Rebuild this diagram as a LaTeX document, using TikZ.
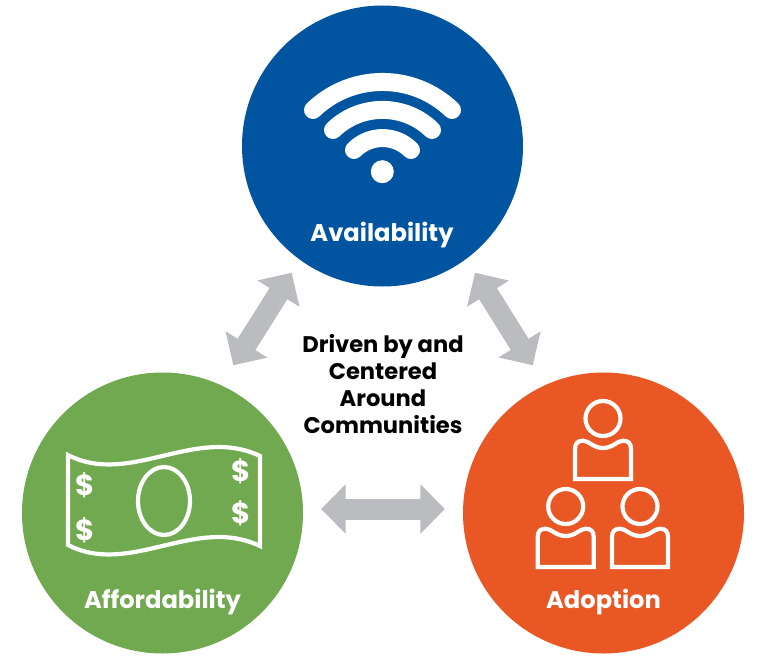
\documentclass[tikz,border=0pt]{standalone}
\usepackage{fontspec}
\setmainfont{Poppins}
\usetikzlibrary{arrows.meta}
\definecolor{cblue}{HTML}{0054A0}
\definecolor{cgreen}{HTML}{70A94F}
\definecolor{corange}{HTML}{E95725}
\definecolor{cgray}{HTML}{BBBCBF}
\tikzset{
  disc/.style={circle,minimum size=281pt,inner sep=0pt,draw=none},
  title/.style={text=white,font=\bfseries\fontsize{24.2}{24.2}\selectfont,inner sep=0pt},
  link/.style={draw=cgray,line width=21pt,{Triangle[length=24.7pt,width=48pt]}-{Triangle[length=24.7pt,width=48pt]}},
  glyph/.style={draw=white,line width=4.2pt,line join=miter},
  wave/.style={draw=white,line width=18pt,line cap=round},
  money/.style={text=white,font=\bfseries\fontsize{29}{29}\selectfont,inner sep=0pt},
  pics/personicon/.style={code={
    \draw[glyph] (0,-17.5) circle[radius=17.5];
    \draw[glyph] (-28,43) -- (-28,13) .. controls (-28,7) and (-25,4.7) .. (-20,4.7) .. controls (-14,4.7) and (-10,12) .. (0,12) .. controls (10,12) and (14,4.7) .. (20,4.7) .. controls (25,4.7) and (28,7) .. (28,13) -- (28,43) -- cycle;
  }}
}
\begin{document}
\begin{tikzpicture}[x=1pt,y=-1pt]
\useasboundingbox (0,0) rectangle (768,658);
\node[disc,fill=cblue] (avail) at (382.5,146) {};
\node[disc,fill=cgreen] (afford) at (162.5,513) {};
\node[disc,fill=corange] (adopt) at (603.5,513) {};
\node[title] (availt) at (382,235) {Availability};
\node[title] (affordt) at (162.5,602) {Affordability};
\node[title] (adoptt) at (603.5,602) {Adoption};
\node[font=\bfseries\fontsize{22.6}{27}\selectfont,align=center,inner sep=0pt,text=black] (center) at (383,384) {Driven by and\\Centered\\Around\\Communities};
% links
\coordinate (l1a) at (291.7,272.7);
\coordinate (l1b) at (233.3,365.3);
\coordinate (l2a) at (475,272.7);
\coordinate (l2b) at (532.7,365.3);
\coordinate (l3a) at (321,509);
\coordinate (l3b) at (445,509);
\draw[link] (l1a) -- (l1b);
\draw[link] (l2a) -- (l2b);
\draw[link] (l3a) -- (l3b);
% wifi
\draw[wave] (313,110) .. controls (351.8,72.6) and (413.2,72.6) .. (452,110);
\draw[wave] (333,130) .. controls (360.5,103.2) and (404.5,103.2) .. (432,130);
\draw[wave] (354,150) .. controls (369.7,134.1) and (395.3,134.1) .. (411,150);
\fill[white] (382.3,171.7) circle[radius=11.5];
% banknote
\draw[glyph] (68,455) .. controls (130,487) and (195,425) .. (260,456) -- (260,546) .. controls (195,515) and (130,577) .. (68,545) -- cycle;
\draw[glyph] (164,501) ellipse[x radius=26,y radius=34];
\node[money] (d1) at (85,485) {\$};
\node[money] (d2) at (85,530) {\$};
\node[money] (d3) at (241,471) {\$};
\node[money] (d4) at (241,513) {\$};
% people
\pic at (603,436) {personicon};
\pic at (565.7,524) {personicon};
\pic at (640,524) {personicon};
\end{tikzpicture}
\end{document}
